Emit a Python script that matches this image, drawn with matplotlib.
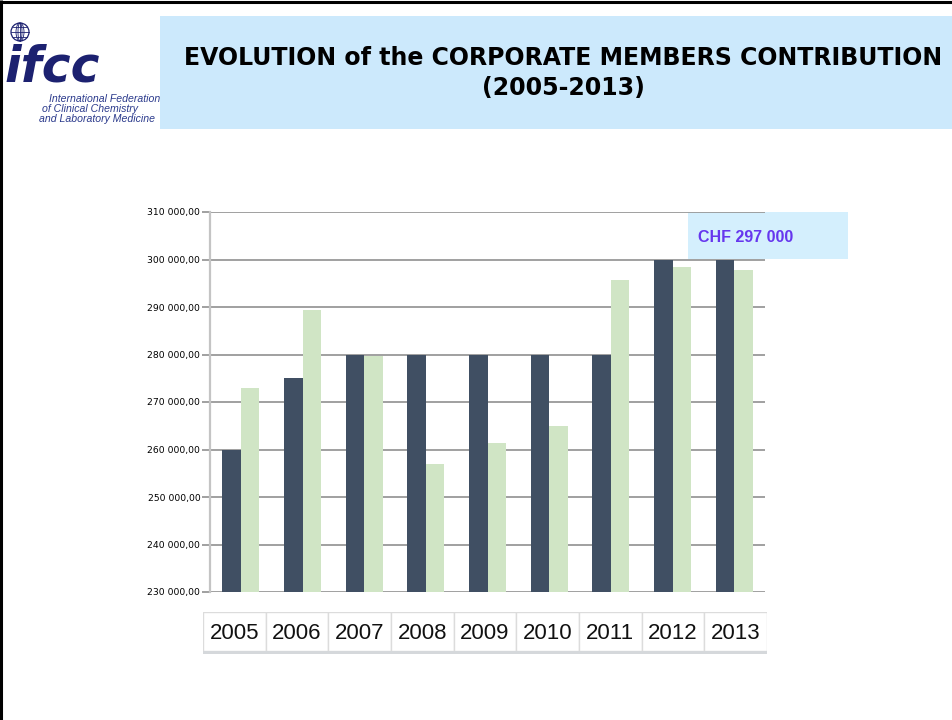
import matplotlib
matplotlib.use("Agg")
import matplotlib.pyplot as plt
from matplotlib.patches import Rectangle, Circle, Ellipse
from matplotlib.ticker import FuncFormatter, MultipleLocator

# ---- data ----
years = ["2005", "2006", "2007", "2008", "2009", "2010", "2011", "2012", "2013"]
budget = [260000, 275000, 280000, 280000, 280000, 280000, 280000, 300000, 300000]
actual = [273000, 289300, 279700, 256900, 261400, 264900, 295700, 298500, 297700]
title_line1 = "EVOLUTION of the CORPORATE MEMBERS CONTRIBUTION"
title_line2 = "(2005-2013)"
annotation = "CHF 297 000"
y_min, y_max, y_step = 230000, 310000, 10000

W, H = 952, 720
fig = plt.figure(figsize=(W / 100, H / 100), dpi=100)
fig.patch.set_facecolor("white")

def px(x0, y0, x1, y1):
    return [x0 / W, 1 - y1 / H, (x1 - x0) / W, (y1 - y0) / H]

# ---- decoration layer (pixel coordinates) ----
deco = fig.add_axes([0, 0, 1, 1], zorder=0)
deco.set_xlim(0, W)
deco.set_ylim(H, 0)
deco.axis("off")

# slide border (top and left)
deco.plot([0, W], [1.5, 1.5], color="black", lw=2.2, solid_capstyle="butt")
deco.plot([1.2, 1.2], [0, H], color="black", lw=2.2, solid_capstyle="butt")

# title box
deco.add_patch(Rectangle((160, 16), W - 160, 113, facecolor="#cce9fc", edgecolor="none"))
deco.text(563, 58, title_line1, ha="center", va="center", fontsize=17.0,
          fontweight="bold", family="DejaVu Sans", color="black")
deco.text(563, 88, title_line2, ha="center", va="center", fontsize=17.0,
          fontweight="bold", family="DejaVu Sans", color="black")

# logo
navy = "#1c2170"
gx, gy, gr = 20, 32, 9
deco.add_patch(Circle((gx, gy), gr, fill=False, edgecolor=navy, lw=0.9))
for rw in (4, 8):
    deco.add_patch(Ellipse((gx, gy), rw, 2 * gr, fill=False, edgecolor=navy, lw=0.6))
deco.plot([gx, gx], [gy - gr, gy + gr], color=navy, lw=0.6)
for dy in (-5, 0, 5):
    half = (gr ** 2 - dy ** 2) ** 0.5
    deco.plot([gx - half, gx + half], [gy + dy, gy + dy], color=navy, lw=0.6)
deco.text(5, 81, "ifcc", fontsize=35, fontweight="black", style="italic",
          family="DejaVu Sans", color=navy, ha="left", va="baseline")
deco.text(160, 101.5, "International Federation", fontsize=7.6, style="italic",
          family="Liberation Sans", color="#2b3a8c", ha="right", va="baseline")
deco.text(42, 112, "of Clinical Chemistry", fontsize=7.6, style="italic",
          family="Liberation Sans", color="#2b3a8c", ha="left", va="baseline")
deco.text(39, 122.5, "and Laboratory Medicine", fontsize=7.6, style="italic",
          family="Liberation Sans", color="#2b3a8c", ha="left", va="baseline")

# annotation box
deco.add_patch(Rectangle((688, 212), 160, 47, facecolor="#d4effd", edgecolor="none"))
deco.text(698, 237, annotation, fontsize=11.5, fontweight="bold",
          family="Liberation Sans", color="#6636ee", ha="left", va="center")

# ---- main chart ----
ax = fig.add_axes(px(210, 212, 765, 592), zorder=1)
ax.patch.set_alpha(0)
x = list(range(len(years)))
bw = 0.3
ax.bar([i - bw / 2 for i in x], budget, width=bw, color="#404f63", zorder=2)
ax.bar([i + bw / 2 for i in x], actual, width=bw, color="#d0e5c5", zorder=2)
ax.set_xlim(-0.5, len(years) - 0.5)
ax.set_ylim(y_min, y_max)
ax.yaxis.set_major_locator(MultipleLocator(y_step))
ax.yaxis.set_major_formatter(FuncFormatter(
    lambda v, p: f"{v:,.2f}".replace(",", " ").replace(".", ",")))
ax.set_axisbelow(True)
ax.grid(axis="y", color="#999999", lw=1.3)
ax.set_xticks([])
for s in ("top", "right", "bottom"):
    ax.spines[s].set_visible(False)
ax.spines["left"].set_color("#c4c4c4")
ax.spines["left"].set_linewidth(1.6)
ax.tick_params(axis="y", direction="out", length=5.5, width=1.3, color="#999999",
               labelsize=6.7, pad=1.5)
for lab in ax.get_yticklabels():
    lab.set_family("DejaVu Sans")

# ---- category label table ----
tab = fig.add_axes(px(203, 612, 767, 654), zorder=1)
tab.set_xlim(0, len(years))
tab.set_ylim(1, 0)
tab.axis("off")
for i, yr in enumerate(years):
    tab.add_patch(Rectangle((i, 0), 1, 0.93, facecolor="white", edgecolor="#dcdcdc", lw=1.0))
    tab.text(i + 0.5, 0.52, yr, ha="center", va="center", fontsize=16,
             family="Liberation Sans", color="#111111")
tab.add_patch(Rectangle((0, 0.93), len(years), 0.07, facecolor="#d5d8db", edgecolor="none"))

fig.savefig("out.png", dpi=100)
